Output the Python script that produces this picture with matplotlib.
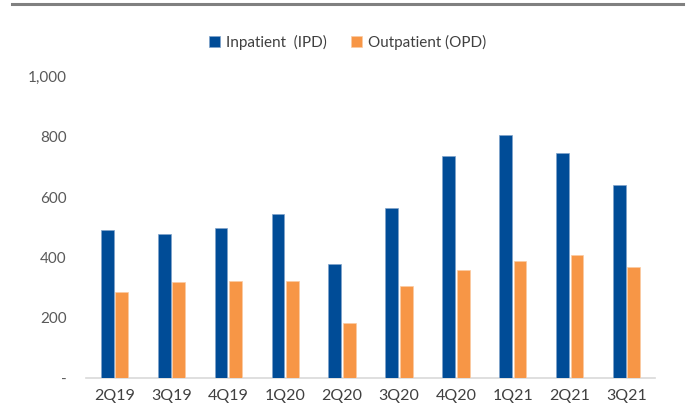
import matplotlib
matplotlib.use("Agg")
import matplotlib.pyplot as plt
import numpy as np

quarters = ["2Q19", "3Q19", "4Q19", "1Q20", "2Q20", "3Q20", "4Q20", "1Q21", "2Q21", "3Q21"]
inpatient = [491, 477, 498, 545, 380, 564, 736, 808, 747, 642]
outpatient = [285, 318, 321, 321, 183, 306, 359, 390, 408, 367]
y_ticks = [0, 200, 400, 600, 800, 1000]
y_tick_labels = ["-", "200", "400", "600", "800", "1,000"]

plt.rcParams["font.family"] = ["Lato", "DejaVu Sans"]

fig = plt.figure(figsize=(6.86, 4.12), dpi=100)
ax = fig.add_axes([0.1254, 0.0825, 0.8294, 0.7313])

x = np.arange(len(quarters))
w = 0.225
gap = 0.03
ax.bar(x - (w + gap) / 2, inpatient, width=w, color="#004C97",
       edgecolor="#7FA3CB", linewidth=0.5, label="Inpatient  (IPD)", zorder=3)
ax.bar(x + (w + gap) / 2, outpatient, width=w, color="#F79646",
       edgecolor="#FBCBA3", linewidth=0.5, label="Outpatient (OPD)", zorder=3)

ax.set_xlim(-0.5, len(quarters) - 0.5)
ax.set_ylim(0, 1000)
ax.set_yticks(y_ticks)
ax.set_yticklabels(y_tick_labels)
ax.set_xticks(x)
ax.set_xticklabels(quarters)

for side in ["top", "right", "left"]:
    ax.spines[side].set_visible(False)
ax.spines["bottom"].set_color("#D9D9D9")
ax.spines["bottom"].set_linewidth(1.2)
ax.tick_params(axis="y", length=0, pad=14, labelsize=11, labelcolor="#595959")
ax.tick_params(axis="x", length=0, pad=8, labelsize=11.5, labelcolor="#404040")

leg = fig.legend(loc="center", bbox_to_anchor=(0.507, 0.898), ncol=2, frameon=False,
                 fontsize=11, handlelength=0.7, handleheight=0.7,
                 handletextpad=0.4, columnspacing=1.6)
for t in leg.get_texts():
    t.set_color("#404040")

# decorative rule across the top of the figure
fig.add_artist(plt.Line2D([12 / 686, 683 / 686], [1 - 4 / 412, 1 - 4 / 412],
                          transform=fig.transFigure, color="#808080", linewidth=2.2))

fig.savefig("out.png", dpi=100)
